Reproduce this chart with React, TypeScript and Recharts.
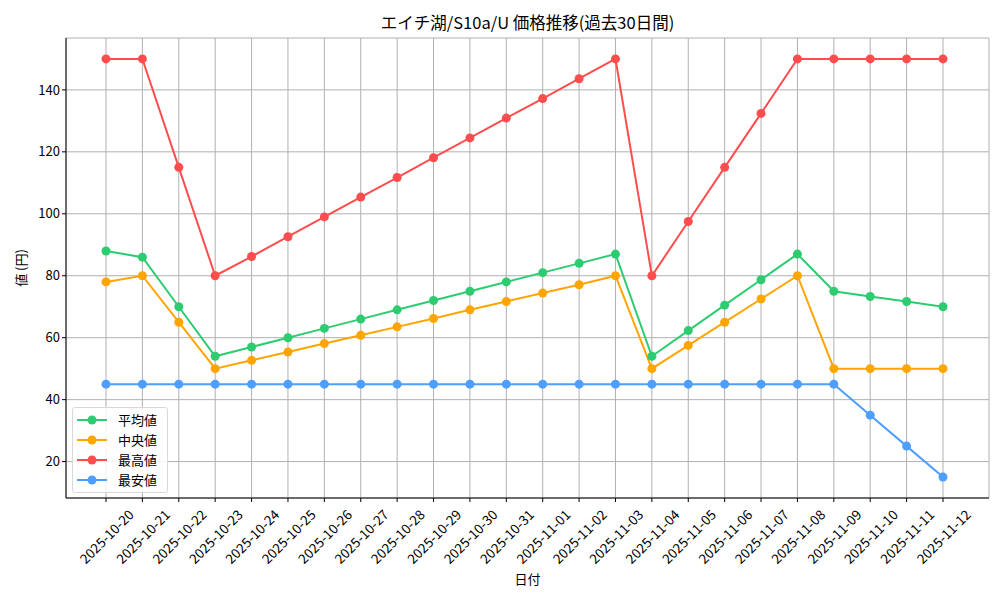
import { LineChart, Line, XAxis, YAxis, CartesianGrid } from "recharts"

const dates = [
  "2025-10-20", "2025-10-21", "2025-10-22", "2025-10-23", "2025-10-24", "2025-10-25",
  "2025-10-26", "2025-10-27", "2025-10-28", "2025-10-29", "2025-10-30", "2025-10-31",
  "2025-11-01", "2025-11-02", "2025-11-03", "2025-11-04", "2025-11-05", "2025-11-06",
  "2025-11-07", "2025-11-08", "2025-11-09", "2025-11-10", "2025-11-11", "2025-11-12",
]
const avgValues = [88, 86, 70, 54, 57, 60, 63, 66, 69, 72, 75, 78, 81, 84, 87, 54, 62.3, 70.5, 78.7, 87, 75, 73.3, 71.7, 70]
const medianValues = [78, 80, 65, 50, 52.7, 55.4, 58.1, 60.8, 63.5, 66.2, 69, 71.7, 74.4, 77.1, 80, 50, 57.5, 65, 72.5, 80, 50, 50, 50, 50]
const maxValues = [150, 150, 115, 80, 86.2, 92.6, 99, 105.4, 111.7, 118.1, 124.5, 130.9, 137.2, 143.6, 150, 80, 97.5, 115, 132.4, 150, 150, 150, 150, 150]
const minValues = [45, 45, 45, 45, 45, 45, 45, 45, 45, 45, 45, 45, 45, 45, 45, 45, 45, 45, 45, 45, 45, 35, 25, 15]
const yTicks = [20, 40, 60, 80, 100, 120, 140]

const series = [
  { key: "avg", name: "平均値", color: "#2ecc71" },
  { key: "median", name: "中央値", color: "#ffa500" },
  { key: "max", name: "最高値", color: "#ff4d4d" },
  { key: "min", name: "最安値", color: "#4d9eff" },
]

const data = dates.map((d, i) => ({
  date: d,
  avg: avgValues[i],
  median: medianValues[i],
  max: maxValues[i],
  min: minValues[i],
}))

const font = '"Noto Sans CJK JP", "Noto Sans", sans-serif'

// matplotlib style: rotated 45deg, centred under the tick
function DateTick(props: any) {
  const { x, y, payload } = props
  return (
    <g transform={`translate(${x},${y + 32})`}>
      <text
        x={0}
        y={0}
        textAnchor="middle"
        dominantBaseline="central"
        transform="rotate(-45)"
        fontSize={13.5}
        fontFamily={font}
        fill="#000"
      >
        {payload.value}
      </text>
    </g>
  )
}

function LegendBox() {
  return (
    <div
      style={{
        position: "absolute",
        left: 72,
        top: 407,
        border: "1px solid #d8d8d8",
        borderRadius: 3,
        background: "rgba(255,255,255,0.85)",
        padding: "2px 10px 2px 3px",
        fontFamily: font,
        fontSize: 13,
        lineHeight: "20px",
      }}
    >
      {series.map((s) => (
        <div key={s.key} style={{ display: "flex", alignItems: "center" }}>
          <svg width={34} height={20}>
            <line x1={1} y1={10} x2={31} y2={10} stroke={s.color} strokeWidth={2} />
            <circle cx={16} cy={10} r={4.5} fill={s.color} />
          </svg>
          <span style={{ marginLeft: 8 }}>{s.name}</span>
        </div>
      ))}
    </div>
  )
}

export default function App() {
  return (
    <div style={{ position: "absolute", left: 0, top: 0, width: 1000, height: 600, background: "#fff" }}>
      <div
        style={{
          position: "absolute",
          top: 10,
          left: 66,
          width: 923,
          textAlign: "center",
          fontFamily: font,
          fontSize: 16.5,
        }}
      >
        エイチ湖/S10a/U 価格推移(過去30日間)
      </div>
      <div
        style={{
          position: "absolute",
          left: 20,
          top: 268,
          transform: "translate(-50%, -50%) rotate(-90deg)",
          fontFamily: font,
          fontSize: 13,
          whiteSpace: "nowrap",
        }}
      >
        値 (円)
      </div>
      <div
        style={{
          position: "absolute",
          top: 569,
          left: 66,
          width: 923,
          textAlign: "center",
          fontFamily: font,
          fontSize: 13,
        }}
      >
        日付
      </div>
      <LineChart width={1000} height={600} data={data} margin={{ top: 38, right: 11, bottom: 32, left: 26 }}>
        <CartesianGrid stroke="#b0b0b0" strokeWidth={1} />
        <XAxis
          dataKey="date"
          interval={0}
          padding={{ left: 40, right: 46 }}
          height={70}
          tick={<DateTick />}
          tickLine={{ stroke: "#000" }}
          tickSize={4}
          axisLine={{ stroke: "#000" }}
        />
        <XAxis xAxisId="top" dataKey="date" orientation="top" height={0} tick={false} tickLine={false} axisLine={{ stroke: "#000" }} />
        <YAxis
          type="number"
          domain={[8.25, 156.75]}
          ticks={yTicks}
          width={40}
          allowDataOverflow
          tick={{ fontSize: 13, fontFamily: font, fill: "#000" }}
          tickLine={{ stroke: "#000" }}
          tickSize={4}
          axisLine={{ stroke: "#000" }}
        />
        <YAxis yAxisId="right" orientation="right" width={0} tick={false} tickLine={false} axisLine={{ stroke: "#000" }} />
        {series.map((s) => (
          <Line
            key={s.key}
            dataKey={s.key}
            name={s.name}
            stroke={s.color}
            strokeWidth={2}
            dot={{ r: 4.5, fill: s.color, stroke: s.color, strokeWidth: 0 }}
            activeDot={false}
            isAnimationActive={false}
          />
        ))}
      </LineChart>
      <LegendBox />
    </div>
  )
}
